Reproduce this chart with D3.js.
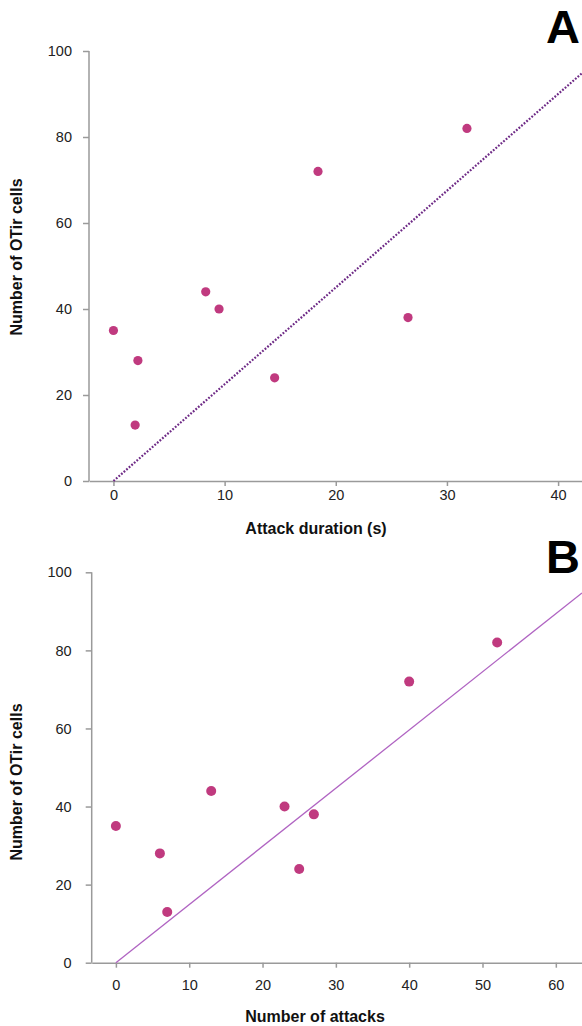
<!DOCTYPE html>
<html>
<head>
<meta charset="utf-8">
<script src="https://cdn.jsdelivr.net/npm/d3@7"></script>
<style>
  html, body { margin: 0; padding: 0; background: #fff; }
  svg { display: block; font-family: "Liberation Sans", Arial, sans-serif; }
  .axis path, .axis line { stroke: #9a9a9a; stroke-width: 1.5; }
  .axis text { fill: #222; font-size: 14.5px; font-family: "Liberation Sans", Arial, sans-serif; }
  .title { font-weight: bold; font-size: 16px; fill: #111; }
  .panel { font-weight: bold; font-size: 47px; fill: #000; }
</style>
</head>
<body>
<script>
// Panel A: attack duration vs. OTir cell count
const durationA = [0, 2.2, 1.95, 8.3, 9.5, 14.5, 18.4, 26.5, 31.8];
const cellsA    = [35, 28, 13, 44, 40, 24, 72, 38, 82];
const slopeA    = 2.25;   // fitted line through origin
const xTicksA   = [0, 10, 20, 30, 40];

// Panel B: number of attacks vs. OTir cell count
const attacksB  = [0, 6, 7, 13, 23, 25, 27, 40, 52];
const cellsB    = [35, 28, 13, 44, 40, 24, 38, 72, 82];
const slopeB    = 1.49;
const xTicksB   = [0, 10, 20, 30, 40, 50, 60];

const yTicks    = [0, 20, 40, 60, 80, 100];

const W = 582, H = 1026;
const svg = d3.select("body").append("svg").attr("width", W).attr("height", H);

function panel(cfg) {
  const g = svg.append("g");
  const x = d3.scaleLinear().domain(cfg.xDomain).range([cfg.left, W]);
  const y = d3.scaleLinear().domain([0, 100]).range([cfg.bottom, cfg.top]);

  // y axis
  g.append("g").attr("class", "axis")
    .attr("transform", `translate(${cfg.left},0)`)
    .call(d3.axisLeft(y).tickValues(yTicks).tickSize(6).tickSizeOuter(0).tickPadding(cfg.yPad))
    .call(a => a.select(".domain").attr("d", `M0,${cfg.bottom}V${cfg.top}`));

  // x axis
  g.append("g").attr("class", "axis")
    .attr("transform", `translate(0,${cfg.bottom})`)
    .call(d3.axisBottom(x).tickValues(cfg.xTicks).tickSize(5).tickSizeOuter(0).tickPadding(cfg.xPad));

  // regression line through the origin
  const x1 = cfg.xDomain[1];
  g.append("line")
    .attr("x1", x(0)).attr("y1", y(0))
    .attr("x2", x(x1)).attr("y2", y(cfg.slope * x1))
    .attr("stroke", cfg.lineColor)
    .attr("stroke-width", cfg.lineWidth)
    .attr("stroke-dasharray", cfg.dash);

  // data points
  g.selectAll("circle").data(cfg.xs.map((v, i) => [v, cfg.ys[i]]))
    .enter().append("circle")
    .attr("cx", d => x(d[0])).attr("cy", d => y(d[1]))
    .attr("r", cfg.r)
    .attr("fill", "#c03a7f");

  // axis titles
  g.append("text").attr("class", "title")
    .attr("x", cfg.xTitleX).attr("y", cfg.xTitleY)
    .attr("text-anchor", "middle").text(cfg.xTitle);
  g.append("text").attr("class", "title")
    .attr("transform", `translate(${cfg.yTitleX},${cfg.yTitleY}) rotate(-90)`)
    .attr("text-anchor", "middle").text("Number of OTir cells");

  // panel letter, kept inside the right edge
  g.append("text").attr("class", "panel")
    .attr("x", W - 2).attr("y", cfg.letterY)
    .attr("text-anchor", "end").text(cfg.letter);
}

panel({
  xs: durationA, ys: cellsA, slope: slopeA, xTicks: xTicksA,
  xDomain: [-2.2, 42.15], left: 89, top: 51, bottom: 481,
  yPad: 11, xPad: 4,
  lineColor: "#6e2a86", lineWidth: 2.2, dash: "1.8,1.6",
  r: 4.6,
  xTitle: "Attack duration (s)", xTitleX: 316, xTitleY: 534,
  yTitleX: 22, yTitleY: 257,
  letter: "A", letterY: 43
});

panel({
  xs: attacksB, ys: cellsB, slope: slopeB, xTicks: xTicksB,
  xDomain: [-3.3, 63.57], left: 91.7, top: 572.3, bottom: 962.7,
  yPad: 14, xPad: 12,
  lineColor: "#b064c2", lineWidth: 1.3, dash: null,
  r: 5,
  xTitle: "Number of attacks", xTitleX: 315, xTitleY: 1022,
  yTitleX: 22, yTitleY: 782,
  letter: "B", letterY: 573
});
</script>
</body>
</html>
